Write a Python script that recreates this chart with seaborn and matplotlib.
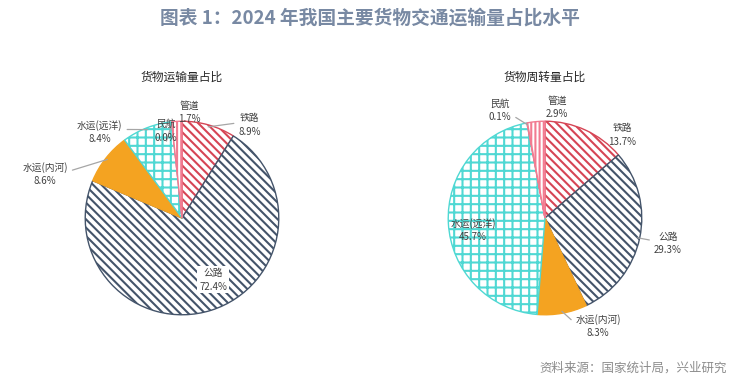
import numpy as np
import matplotlib
matplotlib.use("Agg")
from matplotlib import pyplot as plt
import seaborn as sns

# data
modes = ["铁路", "公路", "水运(内河)", "水运(远洋)", "民航", "管道"]
volume_share = [8.9, 72.4, 8.6, 8.4, 0.0, 1.7]
turnover_share = [13.7, 29.3, 8.3, 45.7, 0.1, 2.9]
titles = ["货物运输量占比", "货物周转量占比"]

sns.set_theme(style="white")
plt.rcParams["font.family"] = ["Noto Sans CJK SC", "DejaVu Sans"]
plt.rcParams["hatch.linewidth"] = 1.5

colors = ["#d64555", "#44546a", "#f4a321", "#4fd8d3", "#f27b91", "#f27b91"]
hatches = ["\\\\\\\\", "\\\\\\\\", None, "++", "||||", "||||"]

# label layout (text centre in data units, whether to draw a leader, relpos of leader)
layouts = [
    [(0.70, 0.96, True, (0.0, 0.6)), (0.32, -0.64, False, None), (-1.415, 0.455, True, (1.0, 0.6)),
     (-0.85, 0.89, True, (1.0, 0.6)), (-0.165, 0.90, True, (0.5, 0.0)), (0.08, 1.095, False, None)],
    [(0.795, 0.857, False, None), (1.27, -0.26, True, (0.0, 0.6)), (0.55, -1.116, True, (0.0, 0.6)),
     (-0.744, -0.124, False, None), (-0.465, 1.116, True, (1.0, 0.3)), (0.124, 1.147, False, None)],
]

fig = plt.figure(figsize=(7.43, 3.79), dpi=100)
W, H = 743, 379
centers = [(182, 218), (545, 218)]
box = 300

for k, (vals, cxy) in enumerate(zip([volume_share, turnover_share], centers)):
    cx, cy = cxy
    ax = fig.add_axes([(cx - box / 2) / W, (H - cy - box / 2) / H, box / W, box / H])
    wedges, _ = ax.pie(vals, startangle=90, counterclock=False, radius=1.0,
                       wedgeprops=dict(linewidth=1.0))
    for w, c, h in zip(wedges, colors, hatches):
        if h is None:
            w.set_facecolor(c)
            w.set_edgecolor(c)
        else:
            w.set_facecolor("white")
            w.set_edgecolor(c)
            w.set_hatch(h)
    ax.set_xlim(-1.55, 1.55)
    ax.set_ylim(-1.55, 1.55)
    ax.set_aspect("equal")
    ax.axis("off")

    for w, name, v, lay in zip(wedges, modes, vals, layouts[k]):
        tx, ty, leader, rel = lay
        mid = np.deg2rad((w.theta1 + w.theta2) / 2)
        anchor = (0.98 * np.cos(mid), 0.98 * np.sin(mid))
        label = f"{name}\n{v:.1f}%"
        bbox = None
        if k == 0 and name == "公路":
            bbox = dict(boxstyle="square,pad=0.2", fc="white", ec="none")
        if leader:
            ax.annotate(label, xy=anchor, xytext=(tx, ty), ha="center", va="center",
                        fontsize=7, color="#404040", linespacing=1.4,
                        arrowprops=dict(arrowstyle="-", color="#a6a6a6", lw=0.9,
                                        relpos=rel, shrinkA=1, shrinkB=0))
        else:
            ax.text(tx, ty, label, ha="center", va="center", fontsize=7,
                    color="#404040", linespacing=1.4, bbox=bbox)

    fig.text(cx / W, 1 - 77 / H, titles[k], ha="center", va="center",
             fontsize=8.5, color="#262626")

fig.text(370 / W, 1 - 18 / H, "图表 1：2024 年我国主要货物交通运输量占比水平",
         ha="center", va="center", fontsize=13.5, fontweight="bold", color="#7889a3")
fig.text(727 / W, 1 - 368 / H, "资料来源：国家统计局，兴业研究",
         ha="right", va="center", fontsize=9, color="#8c8c8c")

fig.savefig("out.png", dpi=100)
